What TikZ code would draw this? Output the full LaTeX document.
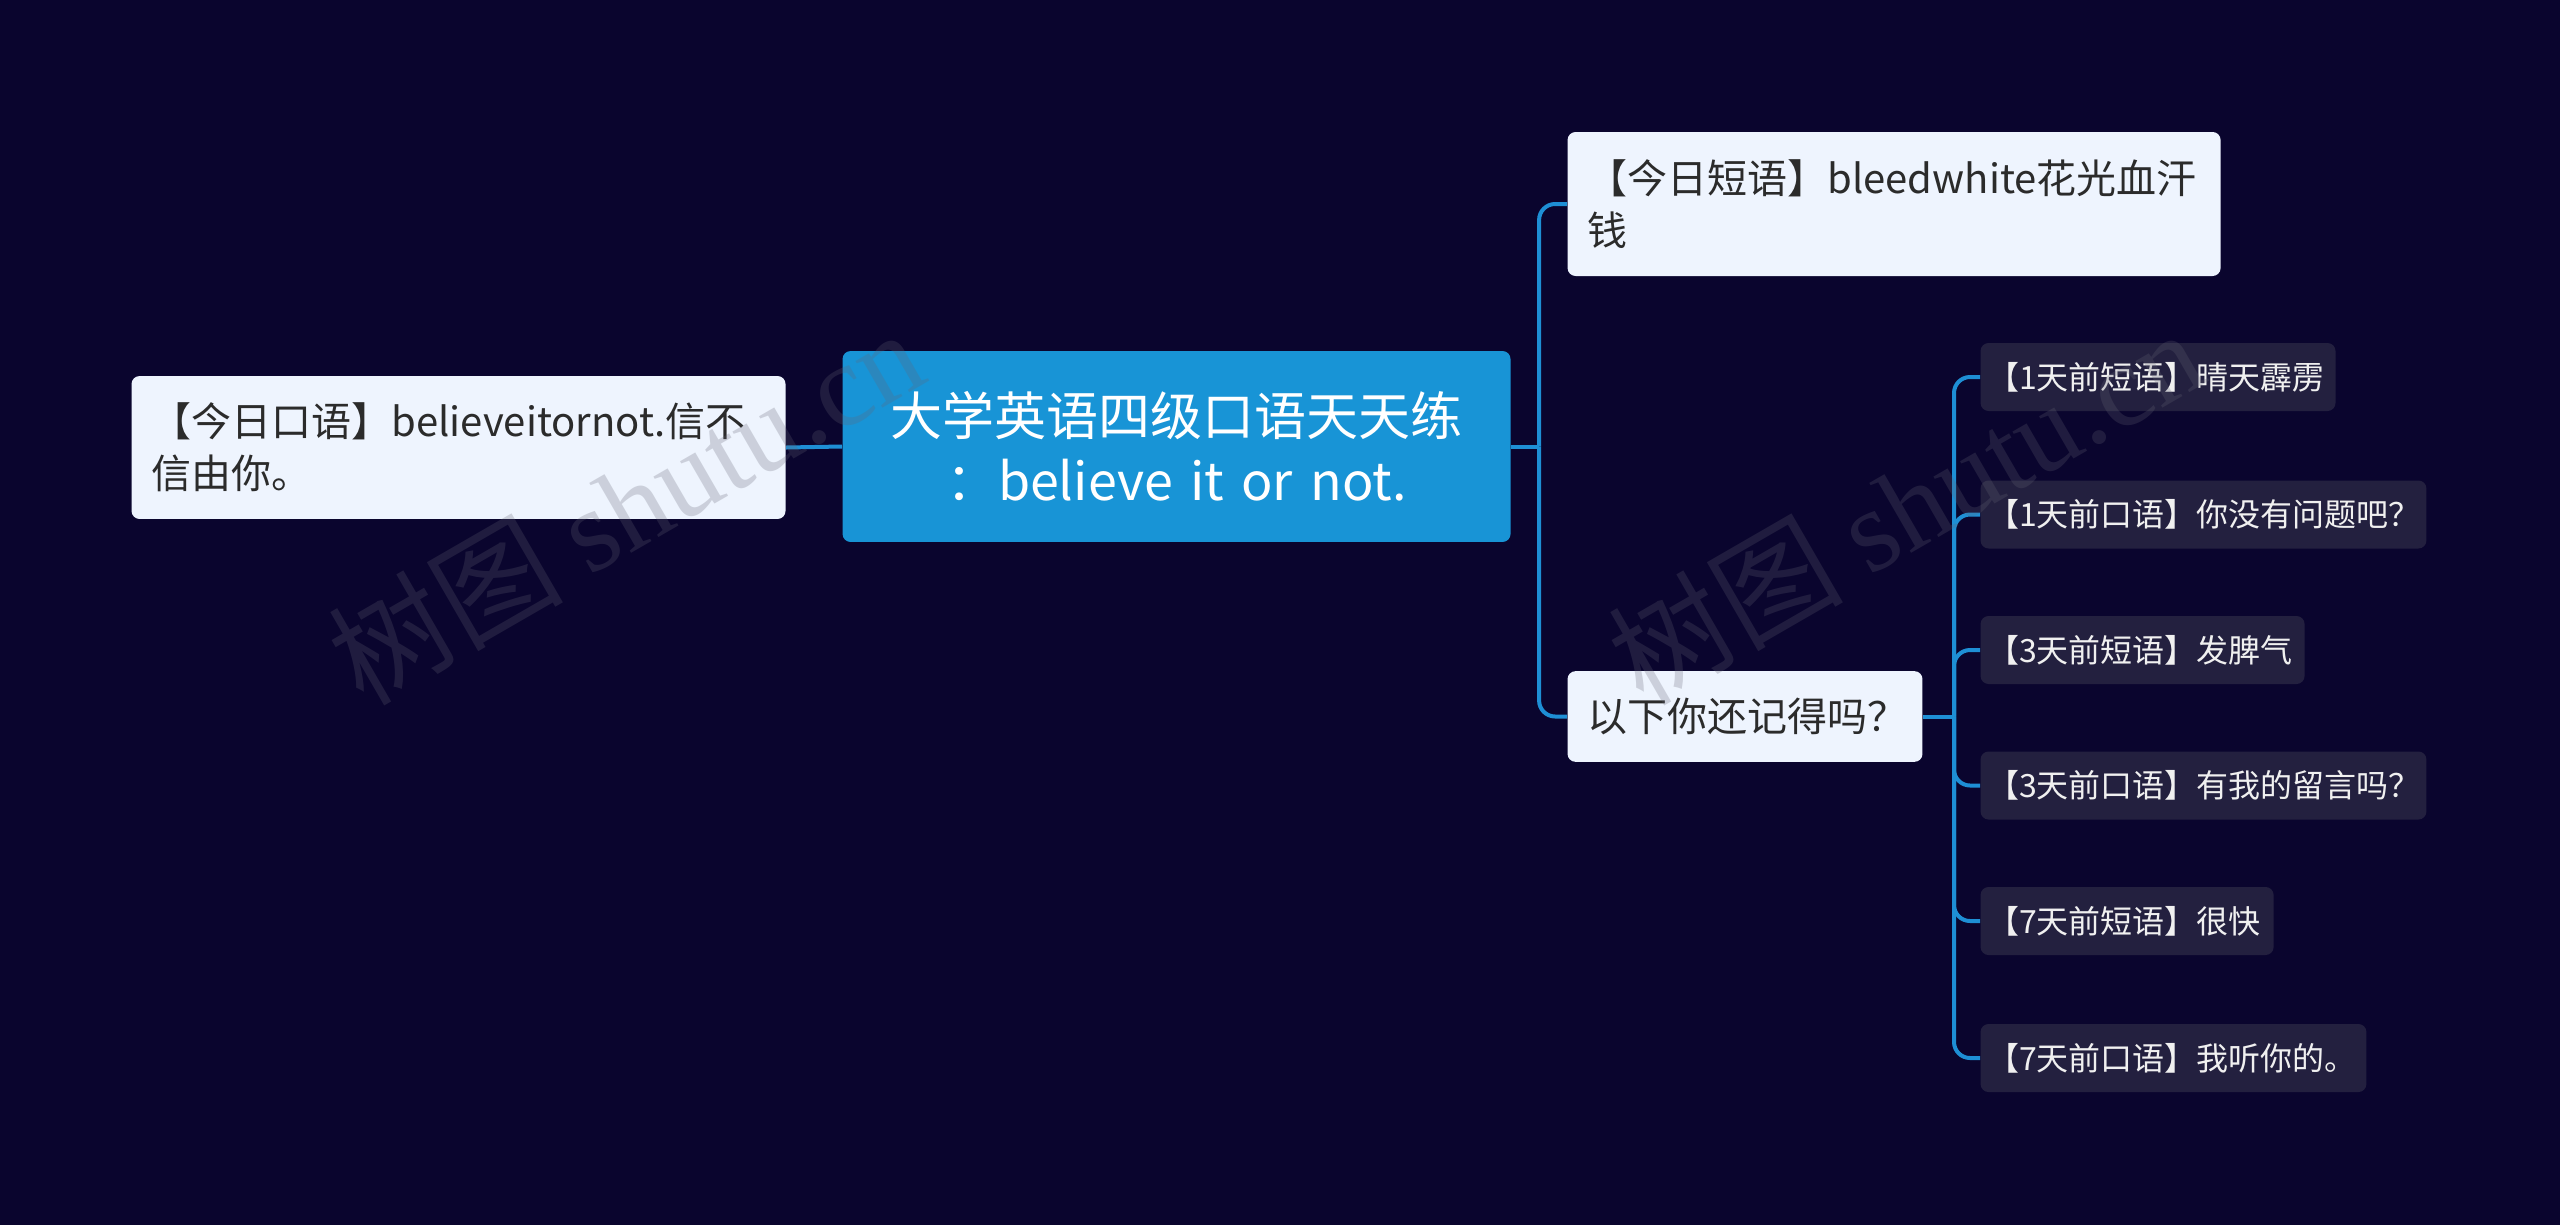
\documentclass[tikz,border=0pt]{standalone}
\usepackage{fontspec}
\setmainfont{Noto Sans CJK SC}
\newfontfamily\wmfont{Liberation Serif}
\definecolor{bgc}{HTML}{0A052E}
\definecolor{mainc}{HTML}{1894D6}
\definecolor{lightc}{HTML}{EEF4FE}
\definecolor{darkbox}{HTML}{23203F}
\definecolor{linec}{HTML}{1E8FD5}
\definecolor{textdark}{HTML}{2B2B2B}
\definecolor{wmc}{HTML}{646474}
\tikzset{
  boxbase/.style={rounded corners=3pt, inner ysep=0pt, anchor=west, align=left},
  lightbox/.style={boxbase, fill=lightc, text=textdark, inner xsep=7.5pt,
     font=\fontsize{15pt}{19.5pt}\selectfont},
  mainbox/.style={boxbase, fill=mainc, text=white, align=center,
     font=\fontsize{19.5pt}{24.4pt}\selectfont},
  smallbox/.style={boxbase, fill=darkbox, text=white!94!black, inner xsep=2.5pt,
     minimum height=25.5pt, font=\fontsize{12pt}{15pt}\selectfont},
  conn/.style={draw=linec, line width=1.5pt, rounded corners=6pt},
  wm/.style={text=wmc, text opacity=0.25, font=\fontsize{44pt}{50pt}\selectfont, rotate=30}
}
\begin{document}
\begin{tikzpicture}[x=0.375pt,y=-0.375pt]
\fill[bgc] (0,0) rectangle (2560,1225);
\useasboundingbox (0,0) rectangle (2560,1225);

% nodes
\node[mainbox, minimum width=250.5pt, minimum height=71.6pt, text width=240pt] (center) at (842,446.5)
  {大学英语四级口语天天练\\：believe it or not.};
\node[lightbox, minimum height=53.6pt, text width=230.25pt] (left) at (131,447.5)
  {【今日口语】believeitornot.信不\\信由你。};
\node[lightbox, minimum height=54pt, text width=229.9pt] (tr) at (1567,204)
  {【今日短语】bleedwhite花光血汗\\钱};
\node[lightbox, minimum height=34pt, text width=118.1pt] (rem) at (1567,716.5)
  {以下你还记得吗？};

\node[smallbox, text width=128.1pt] (s1) at (1980,377) {【1天前短语】晴天霹雳};
\node[smallbox, text width=162.2pt] (s2) at (1980,514.5) {【1天前口语】你没有问题吧？};
\node[smallbox, text width=116.5pt] (s3) at (1980,650) {【3天前短语】发脾气};
\node[smallbox, text width=162.2pt] (s4) at (1980,785.5) {【3天前口语】有我的留言吗？};
\node[smallbox, text width=104.9pt] (s5) at (1980,921) {【7天前短语】很快};
\node[smallbox, text width=139.7pt] (s6) at (1980,1058) {【7天前口语】我听你的。};

% connectors
\draw[conn] (left.east) -- (center.west);
\draw[conn] (center.east) -- ++(28,0) coordinate (j1);
\draw[conn] (j1) |- (tr.west);
\draw[conn] (j1) |- (rem.west);
\draw[conn] (rem.east) -- ++(31,0) coordinate (j2);
\foreach \s in {s1,s2,s3,s4,s5,s6}{
  \draw[conn] (j2) |- (\s.west);
}

% watermarks (on top)
\node[wm] (wm1) at (625,505) {树图 {\wmfont shutu.cn}};
\node[wm] (wm2) at (1905,505) {树图 {\wmfont shutu.cn}};
\end{tikzpicture}
\end{document}
